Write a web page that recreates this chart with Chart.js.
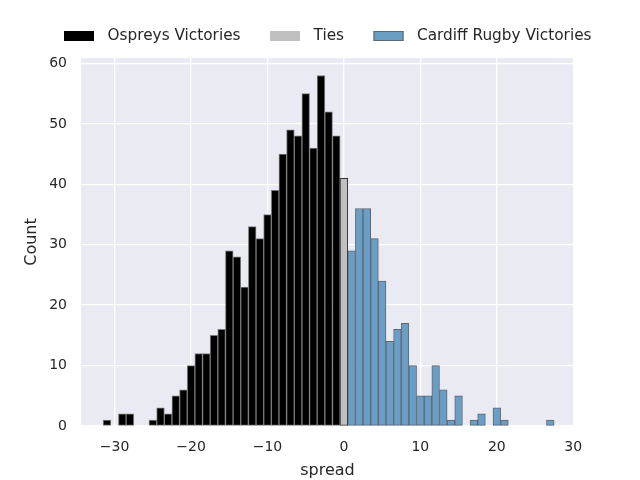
<!DOCTYPE html>
<html>
<head>
<meta charset="utf-8">
<script src="https://cdn.jsdelivr.net/npm/chart.js@4"></script>
<style>
html,body{margin:0;padding:0;background:#fff;}
#wrap{width:640px;height:480px;}
</style>
</head>
<body>
<div id="wrap"><canvas id="c" width="640" height="480"></canvas></div>
<script>
const ospreysSpread = [-31,-30,-29,-28,-27,-26,-25,-24,-23,-22,-21,-20,-19,-18,-17,-16,-15,-14,-13,-12,-11,-10,-9,-8,-7,-6,-5,-4,-3,-2,-1];
const ospreysCount  = [1,0,2,2,0,0,1,3,2,5,6,10,12,12,15,16,29,28,23,33,31,35,39,45,49,48,55,46,58,52,48];
const tiesSpread = [0];
const tiesCount  = [41];
const cardiffSpread = [1,2,3,4,5,6,7,8,9,10,11,12,13,14,15,16,17,18,19,20,21,22,23,24,25,26,27];
const cardiffCount  = [29,36,36,31,24,14,16,17,10,5,5,10,6,1,5,0,1,2,0,3,1,0,0,0,0,0,1];
const seriesLabels = ['Ospreys Victories','Ties','Cardiff Rugby Victories'];
const xTicks = [-30,-20,-10,0,10,20,30];
const yTicks = [0,10,20,30,40,50,60];

const FONT = "'DejaVu Sans', sans-serif";
const TXT = '#262626';

function pts(xs, ys){ return xs.map((x,i)=>({x:x, y:ys[i]})); }

const bgPlugin = {
  id:'bg',
  beforeDraw(chart){
    const {ctx, chartArea:a} = chart;
    ctx.save();
    ctx.fillStyle = '#eaeaf2';
    ctx.fillRect(a.left, a.top, a.right-a.left, a.bottom-a.top);
    ctx.restore();
  }
};

const legendPlugin = {
  id:'customLegend',
  afterDraw(chart){
    const ctx = chart.ctx;
    ctx.save();
    ctx.font = "15.3px " + FONT;
    ctx.textBaseline = 'middle';
    ctx.textAlign = 'left';
    const y = 36;
    let x = 64;
    chart.data.datasets.forEach((ds)=>{
      ctx.fillStyle = ds.backgroundColor;
      ctx.fillRect(x, y-5, 30, 10);
      if (ds.legendEdge) {
        ctx.strokeStyle = ds.borderColor;
        ctx.lineWidth = 1;
        ctx.strokeRect(x+0.5, y-4.5, 29, 9);
      }
      ctx.fillStyle = TXT;
      ctx.fillText(ds.label, x + 43.5, y);
      x += 43.5 + ctx.measureText(ds.label).width + 29.5;
    });
    ctx.restore();
  }
};

const fmt = v => (v < 0 ? '\u2212' + Math.abs(v) : String(v));

new Chart(document.getElementById('c'), {
  type:'bar',
  data:{
    datasets:[
      {label:seriesLabels[0], data:pts(ospreysSpread, ospreysCount), backgroundColor:'#000000', borderColor:'#7a7a7a', borderWidth:1, legendEdge:false},
      {label:seriesLabels[1], data:pts(tiesSpread, tiesCount), backgroundColor:'#c0c0c0', borderColor:'#333333', borderWidth:1, legendEdge:false},
      {label:seriesLabels[2], data:pts(cardiffSpread, cardiffCount), backgroundColor:'#6a9ec5', borderColor:'#5e6670', borderWidth:1, legendEdge:true}
    ]
  },
  options:{
    responsive:false,
    animation:false,
    devicePixelRatio:1,
    layout:{padding:{top:58, right:66, left:0, bottom:0}},
    datasets:{bar:{grouped:false, barPercentage:1, categoryPercentage:1, borderSkipped:false}},
    plugins:{legend:{display:false}, tooltip:{enabled:false}},
    scales:{
      x:{
        type:'linear', offset:false, min:-34.4, max:30.1,
        afterFit(s){ s.height = 54; },
        afterBuildTicks(s){ s.ticks = xTicks.map(v=>({value:v})); },
        grid:{color:'#ffffff', lineWidth:1.3, drawTicks:false, offset:false},
        border:{display:false},
        ticks:{font:{family:FONT, size:14}, color:TXT, padding:13, callback:fmt, maxRotation:0},
        title:{display:true, text:'spread', font:{family:FONT, size:16}, color:TXT, padding:{top:0, bottom:0}}
      },
      y:{
        min:0, max:60.9,
        afterFit(s){ s.width = 81; },
        afterBuildTicks(s){ s.ticks = yTicks.map(v=>({value:v})); },
        grid:{color:'#ffffff', lineWidth:1.3, drawTicks:false},
        border:{display:false},
        ticks:{font:{family:FONT, size:14}, color:TXT, padding:14, callback:fmt},
        title:{display:true, text:'Count', font:{family:FONT, size:16}, color:TXT, padding:{top:22, bottom:0}}
      }
    }
  },
  plugins:[bgPlugin, legendPlugin]
});
</script>
</body>
</html>
